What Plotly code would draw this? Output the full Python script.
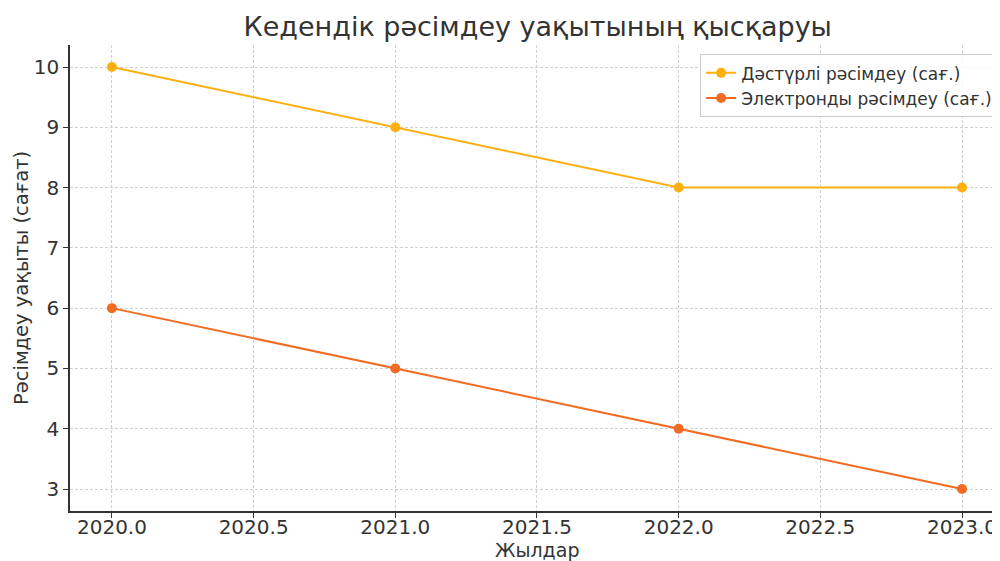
import plotly.graph_objects as go

years = [2020, 2021, 2022, 2023]
traditional = [10, 9, 8, 8]
electronic = [6, 5, 4, 3]

TRAD_COLOR = "#FDB010"
ELEC_COLOR = "#F26B23"
FONT = "DejaVu Sans"
TEXT = "#333333"

fig = go.Figure()
fig.add_trace(
    go.Scatter(
        x=years, y=traditional, mode="lines+markers",
        name="Дәстүрлі рәсімдеу (сағ.)",
        line=dict(color=TRAD_COLOR, width=2),
        marker=dict(color=TRAD_COLOR, size=10),
    )
)
fig.add_trace(
    go.Scatter(
        x=years, y=electronic, mode="lines+markers",
        name="Электронды рәсімдеу (сағ.)",
        line=dict(color=ELEC_COLOR, width=2),
        marker=dict(color=ELEC_COLOR, size=10),
    )
)

axis_common = dict(
    showline=True, linecolor=TEXT, linewidth=1.5, mirror=False,
    ticks="outside", ticklen=5, tickcolor=TEXT,
    showgrid=True, gridcolor="#d0d0d0", griddash="3px,2px", gridwidth=1,
    zeroline=False, automargin=False,
    tickfont=dict(family=FONT, size=20, color=TEXT),
)

fig.update_xaxes(
    range=[2019.852, 2023.134],
    tickvals=[2020, 2020.5, 2021, 2021.5, 2022, 2022.5, 2023],
    ticktext=["2020.0", "2020.5", "2021.0", "2021.5", "2022.0", "2022.5", "2023.0"],
    ticklabelstandoff=-8,
    **axis_common,
)
fig.update_yaxes(
    range=[2.635, 10.365],
    tickvals=[3, 4, 5, 6, 7, 8, 9, 10],
    **axis_common,
)

# axis titles placed as annotations so they sit where the reference has them
fig.add_annotation(
    text="Жылдар", xref="paper", yref="paper", x=0.502, y=0,
    xanchor="center", yanchor="middle", yshift=-39, showarrow=False,
    font=dict(family=FONT, size=19, color=TEXT),
)
fig.add_annotation(
    text="Рәсімдеу уақыты (сағат)", xref="paper", yref="paper", x=0, y=0.5,
    xanchor="center", yanchor="middle", xshift=-49, textangle=-90, showarrow=False,
    font=dict(family=FONT, size=19.5, color=TEXT),
)

fig.update_layout(
    width=992,
    height=553,
    paper_bgcolor="white",
    plot_bgcolor="white",
    margin=dict(l=62, r=0, t=37, b=50, autoexpand=False),
    title=dict(
        text="Кедендік рәсімдеу уақытының қысқаруы",
        x=0.534, xanchor="center", y=0.9656, yanchor="middle",
        font=dict(family=FONT, size=27, color=TEXT),
    ),
    legend=dict(
        x=0.998, y=0.98, xanchor="right", yanchor="top",
        bgcolor="rgba(255,255,255,0.85)",
        bordercolor="#cccccc", borderwidth=1,
        font=dict(family=FONT, size=17, color=TEXT),
    ),
    showlegend=True,
)

fig.write_html("out.html")
